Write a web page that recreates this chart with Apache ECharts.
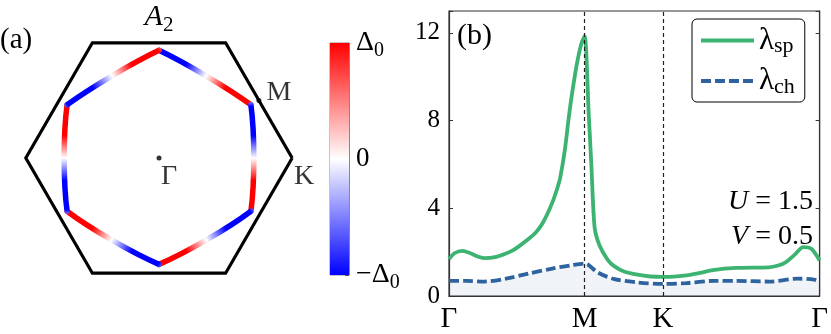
<!DOCTYPE html>
<html>
<head>
<meta charset="utf-8">
<script src="https://cdn.jsdelivr.net/npm/echarts@6/dist/echarts.min.js"></script>
<style>
  html, body { margin: 0; padding: 0; background: #fff; }
  #main { width: 831px; height: 334px; }
</style>
</head>
<body>
<div id="main"></div>
<script>
// ---- panel (b): path Γ-M-K-Γ, x in path length (|ΓM| = 1)
const kPos = [0, 1, 1.5774, 2.7321];
const kNames = ['Γ', 'M', 'K', 'Γ'];

const spX = [0, 0.04, 0.10, 0.15, 0.21, 0.26, 0.33, 0.42, 0.48, 0.54, 0.59, 0.64, 0.68, 0.71, 0.74, 0.77,
  0.80, 0.82, 0.855, 0.88, 0.903, 0.94, 0.975, 1.00, 1.03, 1.05, 1.073, 1.11, 1.17, 1.22, 1.29, 1.39,
  1.485, 1.58, 1.75, 1.85, 1.945, 2.115, 2.357, 2.42, 2.478, 2.551, 2.611, 2.672, 2.72, 2.7321];
const lambdaSp = [1.68, 1.95, 2.06, 1.97, 1.80, 1.73, 1.76, 1.94, 2.12, 2.38, 2.62, 2.90, 3.22, 3.55, 3.95, 4.40,
  4.95, 5.40, 6.70, 8.00, 9.06, 10.50, 11.50, 11.85, 8.30, 5.90, 3.15, 2.30, 1.65, 1.35, 1.12, 0.97,
  0.89, 0.87, 0.94, 1.05, 1.18, 1.28, 1.31, 1.38, 1.52, 1.90, 2.23, 2.15, 1.75, 1.62];

const chX = [0, 0.13, 0.26, 0.42, 0.59, 0.76, 0.90, 1.00, 1.025, 1.10, 1.22, 1.39, 1.58, 1.75, 1.95, 2.12,
  2.36, 2.575, 2.70, 2.7321];
const lambdaCh = [0.69, 0.69, 0.66, 0.79, 1.03, 1.25, 1.40, 1.48, 1.43, 1.06, 0.77, 0.62, 0.55, 0.59, 0.69, 0.69,
  0.66, 0.79, 0.74, 0.67];

const yTicks = [0, 4, 8, 12];

// ---- panel (a): Brillouin zone and Fermi surface (units of the BZ corner radius)
const bzHex = [[1, 0], [0.5, 0.866], [-0.5, 0.866], [-1, 0], [-0.5, -0.866], [0.5, -0.866], [1, 0]];
const fsCorners = [[0, 0.81], [0.69, 0.40], [0.69, -0.40], [0, -0.80], [-0.69, -0.40], [-0.69, 0.40]];
const fsMids = [[0.356, 0.616], [0.712, 0], [0.356, -0.616], [-0.356, -0.616], [-0.712, 0], [-0.356, 0.616]];
// gap along each FS edge (clockwise), in units of Δ0
const gapPos = [0, 0.04, 0.30, 0.50, 0.70, 0.96, 1];
const gapVal = [-0.55, -1, -1, 0, 1, 1, 0.55];
const kPoints = [
  { value: [0, 0], name: 'Γ', dot: 5, off: [10, 19] },
  { value: [0.75, 0.433], name: 'M', dot: 5, off: [20, -8] },
  { value: [1, 0], name: 'K', dot: 0, off: [12, 19] }
];

// ---- colour bar
const cbTicks = [-1, -2 / 3, -1 / 3, 0, 1 / 3, 2 / 3, 1];
const cbLabels = [-1, 0, 1];

const serif = 'Liberation Serif';
const frame = '#333';

function bwr(v) {
  let r, g, b;
  if (v < 0) { r = g = Math.round(255 * (1 + v)); b = 255; }
  else { r = 255; g = b = Math.round(255 * (1 - v)); }
  return 'rgb(' + r + ',' + g + ',' + b + ')';
}

function edgeGradient(a, b) {
  const eps = 1e-6;
  let x0 = 0, x1 = 0;
  if (a[0] < b[0] - eps) { x0 = 0; x1 = 1; }
  else if (a[0] > b[0] + eps) { x0 = 1; x1 = 0; }
  const y0 = a[1] > b[1] ? 0 : 1;
  const stops = gapPos.map((p, i) => ({ offset: p, color: bwr(gapVal[i]) }));
  return new echarts.graphic.LinearGradient(x0, y0, x1, 1 - y0, stops);
}

const fsSeries = fsCorners.map((c, i) => {
  const n = fsCorners[(i + 1) % fsCorners.length];
  return {
    type: 'line', xAxisIndex: 1, yAxisIndex: 2,
    data: [c, fsMids[i], n],
    smooth: 0.6, symbol: 'none', silent: true, z: 3,
    lineStyle: { width: 5.5, cap: 'round', color: edgeGradient(c, n) }
  };
});

const chart = echarts.init(document.getElementById('main'));

const option = {
  animation: false,
  backgroundColor: '#fff',
  grid: [
    { left: 449, top: 11, width: 376, height: 295, show: true, borderColor: frame, borderWidth: 1.2 },
    { left: 12.5, top: 25, width: 293, height: 266 },
    { left: 330, top: 43, width: 19, height: 232, show: true, borderColor: '#888', borderWidth: 1 }
  ],
  xAxis: [
    {
      gridIndex: 0, type: 'value', min: 0, max: kPos[3],
      axisLine: { show: true, lineStyle: { color: frame, width: 1.2 } },
      axisTick: { show: true, inside: true, length: 4, customValues: kPos, lineStyle: { color: frame } },
      axisLabel: {
        customValues: kPos, margin: 9, color: '#000', fontFamily: serif, fontSize: 29,
        formatter: v => kNames[kPos.indexOf(v)]
      },
      splitLine: { show: false }
    },
    { gridIndex: 1, type: 'value', min: -1.1, max: 1.1, show: false },
    { gridIndex: 2, type: 'category', data: ['cb'], show: false }
  ],
  yAxis: [
    {
      gridIndex: 0, type: 'value', min: 0, max: 13, interval: 4,
      axisLine: { show: true, lineStyle: { color: frame, width: 1.2 } },
      axisTick: { show: true, inside: true, length: 4, lineStyle: { color: frame } },
      axisLabel: {
        margin: 9, color: '#000', fontFamily: serif, fontSize: 25,
        formatter: v => (yTicks.indexOf(v) >= 0 ? String(v) : '')
      },
      splitLine: { show: false }
    },
    {
      gridIndex: 0, type: 'value', position: 'right', min: 0, max: 13, interval: 4,
      axisLine: { show: true, lineStyle: { color: frame, width: 1.2 } },
      axisTick: { show: true, inside: true, length: 4, lineStyle: { color: frame } },
      axisLabel: { show: false },
      splitLine: { show: false }
    },
    { gridIndex: 1, type: 'value', min: -1, max: 1, show: false },
    {
      gridIndex: 2, type: 'value', position: 'right', min: -1, max: 1,
      axisLine: { show: true, lineStyle: { color: '#888' } },
      axisTick: { show: true, inside: true, length: 4, customValues: cbTicks, lineStyle: { color: '#555' } },
      axisLabel: {
        customValues: cbLabels, margin: 7, color: '#000', fontFamily: serif, fontSize: 27,
        formatter: v => (v > 0.5 ? '{d|Δ}{s|0}' : v < -0.5 ? '{d|−Δ}{s|0}' : '0'),
        rich: {
          d: { fontFamily: serif, fontSize: 28, color: '#000' },
          s: { fontFamily: serif, fontSize: 20, color: '#000', padding: [16, 0, 0, 0] }
        }
      },
      splitLine: { show: false }
    }
  ],
  legend: {
    data: ['sp', 'ch'],
    orient: 'vertical', left: 692, top: 19,
    itemWidth: 53, itemHeight: 14, itemGap: 8,
    padding: [6, 10, 4, 7],
    borderColor: '#000', borderWidth: 1, borderRadius: 5,
    lineStyle: { width: 4 },
    itemStyle: { opacity: 0 },
    formatter: name => '{l|λ}{s|' + name + '}',
    textStyle: {
      color: '#000', fontFamily: serif, fontSize: 28,
      rich: {
        l: { fontFamily: serif, fontSize: 31, color: '#000' },
        s: { fontFamily: serif, fontSize: 22, color: '#000', padding: [12, 0, 0, 0] }
      }
    }
  },
  graphic: [
    { type: 'text', x: 0, y: 40, style: { text: '(a)', font: '29px "Liberation Serif"', fill: '#000', verticalAlign: 'middle' } },
    { type: 'text', x: 457, y: 36, style: { text: '(b)', font: '30px "Liberation Serif"', fill: '#000', verticalAlign: 'middle' } },
    {
      type: 'text', x: 159, y: 17,
      style: {
        text: '{i|A}{s|2}', align: 'center', verticalAlign: 'middle',
        rich: {
          i: { fontFamily: serif, fontStyle: 'italic', fontSize: 30, fill: '#000' },
          s: { fontFamily: serif, fontSize: 21, fill: '#000', padding: [16, 0, 0, 0] }
        }
      }
    },
    {
      type: 'text', x: 813, y: 202,
      style: {
        text: '{i|U} = 1.5', align: 'right', verticalAlign: 'middle', font: '28px "Liberation Serif"', fill: '#000',
        rich: { i: { fontFamily: serif, fontStyle: 'italic', fontSize: 28, fill: '#000' } }
      }
    },
    {
      type: 'text', x: 813, y: 237,
      style: {
        text: '{i|V} = 0.5', align: 'right', verticalAlign: 'middle', font: '28px "Liberation Serif"', fill: '#000',
        rich: { i: { fontFamily: serif, fontStyle: 'italic', fontSize: 28, fill: '#000' } }
      }
    }
  ],
  series: [
    {
      name: 'ch', type: 'line', xAxisIndex: 0, yAxisIndex: 0,
      data: chX.map((x, i) => [x, lambdaCh[i]]),
      smooth: 0.3, symbol: 'none', z: 2,
      lineStyle: { color: '#2e63a0', width: 3.8, type: [10, 4] },
      itemStyle: { color: '#2e63a0' },
      areaStyle: { color: 'rgba(46,99,160,0.1)' }
    },
    {
      name: 'sp', type: 'line', xAxisIndex: 0, yAxisIndex: 0,
      data: spX.map((x, i) => [x, lambdaSp[i]]),
      smooth: 0.25, symbol: 'none', z: 3,
      lineStyle: { color: '#3cb371', width: 3.8 },
      itemStyle: { color: '#3cb371' },
      markLine: {
        silent: true, symbol: ['none', 'none'], label: { show: false },
        lineStyle: { color: '#222', width: 1.2, type: [4, 3] },
        data: [{ xAxis: kPos[1] }, { xAxis: kPos[2] }]
      }
    },
    {
      type: 'line', xAxisIndex: 1, yAxisIndex: 2, data: bzHex,
      symbol: 'none', silent: true, z: 2,
      lineStyle: { color: '#000', width: 3.2, join: 'miter' }
    },
    ...fsSeries,
    {
      type: 'scatter', xAxisIndex: 1, yAxisIndex: 2, silent: true, z: 4,
      data: kPoints.map(p => ({
        value: p.value, name: p.name, symbolSize: p.dot,
        label: { offset: p.off }
      })),
      itemStyle: { color: '#000' },
      label: {
        show: true, position: 'inside', formatter: '{b}', color: '#000',
        fontFamily: serif, fontSize: 28
      }
    },
    {
      type: 'bar', xAxisIndex: 2, yAxisIndex: 3, stack: 'cb', barWidth: '100%', silent: true,
      data: [cbLabels[2]],
      itemStyle: { color: new echarts.graphic.LinearGradient(0, 0, 0, 1, [{ offset: 0, color: bwr(1) }, { offset: 1, color: bwr(0) }]) }
    },
    {
      type: 'bar', xAxisIndex: 2, yAxisIndex: 3, stack: 'cb', barWidth: '100%', silent: true,
      data: [cbLabels[0]],
      itemStyle: { color: new echarts.graphic.LinearGradient(0, 0, 0, 1, [{ offset: 0, color: bwr(0) }, { offset: 1, color: bwr(-1) }]) }
    }
  ]
};

chart.setOption(option);
</script>
</body>
</html>
